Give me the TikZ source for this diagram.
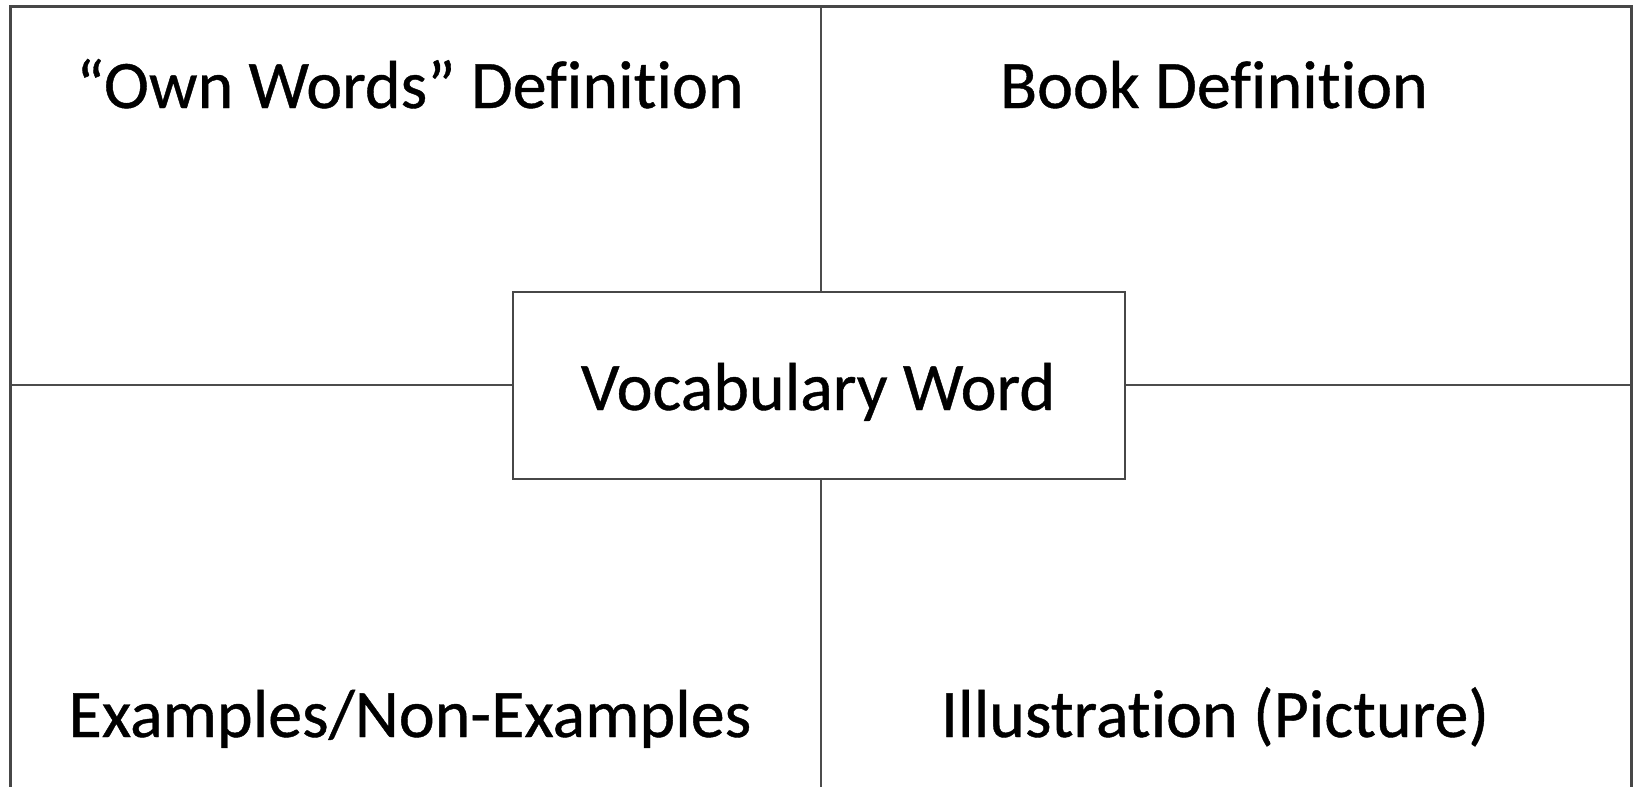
\documentclass[tikz,border=0pt]{standalone}
\usepackage{fontspec}
\setmainfont{Carlito}[Ligatures=NoCommon, FakeBold=0.6]
\begin{document}
\begin{tikzpicture}[x=1pt,y=-1pt,
  frame/.style={draw=black!72, line width=3pt},
  divider/.style={draw=black!70, line width=2.8pt},
  label/.style={font=\fontsize{68}{72}\selectfont, text=black, inner sep=0pt, anchor=base},
  wordbox/.style={draw=black!72, line width=2.6pt, fill=white, minimum width=612pt, minimum height=187pt, inner sep=0pt}
]
\clip (0,0) rectangle (1633,787);
\fill[white] (0,0) rectangle (1633,787);
\coordinate (tl) at (10,6);
\coordinate (br) at (1631,820);
\coordinate (ftop) at (821,6);
\coordinate (fbot) at (821,820);
\coordinate (fleft) at (10,385);
\coordinate (fright) at (1631,385);
\draw[divider] (ftop) -- (fbot);
\draw[divider] (fleft) -- (fright);
\node[wordbox] (vw) at (819,385.5) {};
\node[label] (vwt) at (818,410) {Vocabulary Word};
\draw[frame] (tl) rectangle (br);
\node[label] (own) at (410,108) {“Own Words” Definition};
\node[label] (book) at (1214,108) {Book Definition};
\node[label] (ex) at (410,737) {Examples/Non-Examples};
\node[label] (ill) at (1215,737) {Illustration (Picture)};
\end{tikzpicture}
\end{document}
